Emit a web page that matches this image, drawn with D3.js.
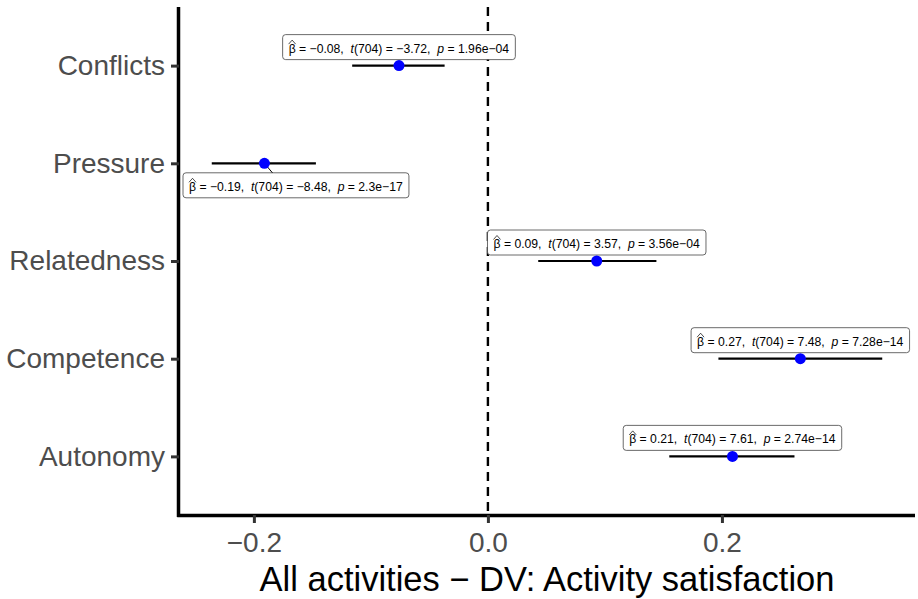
<!DOCTYPE html>
<html>
<head>
<meta charset="utf-8">
<script src="https://cdn.jsdelivr.net/npm/d3@7"></script>
<style>
  html, body { margin: 0; padding: 0; background: #fff; }
  svg { display: block; font-family: "Liberation Sans", Arial, Helvetica, sans-serif; }
  .lab text { white-space: pre; }
</style>
</head>
<body>
<svg id="chart" width="918" height="599"></svg>
<script>
// Données du graphique
const categories = ["Conflicts", "Pressure", "Relatedness", "Competence", "Autonomy"];
const estimates = [-0.076, -0.191, 0.093, 0.267, 0.209];
const ciLow = [-0.116, -0.236, 0.043, 0.197, 0.155];
const ciHigh = [-0.037, -0.147, 0.144, 0.337, 0.262];
const betaText = ["\u22120.08", "\u22120.19", "0.09", "0.27", "0.21"];
const tText = ["\u22123.72", "\u22128.48", "3.57", "7.48", "7.61"];
const pText = ["1.96e\u221204", "2.3e\u221217", "3.56e\u221204", "7.28e\u221214", "2.74e\u221214"];
const dfText = "704";
const xTicks = [-0.2, 0.0, 0.2];
const xTitle = "All activities \u2212 DV: Activity satisfaction";
// étiquette sous le point pour "Pressure" (comme ggrepel)
const labelBelow = [false, true, false, false, false];

const svg = d3.select("#chart");
const panel = { left: 179, right: 915, top: 7, bottom: 515 };

const x = d3.scaleLinear().domain([-0.264, 0.365]).range([panel.left, panel.right]);
const y = d3.scalePoint().domain(categories).range([panel.top, panel.bottom]).padding(0.6);

const fmt = v => v === 0 ? "0.0" : d3.format(".1f")(v).replace("-", "\u2212");

// Ligne verticale pointillée à 0
svg.append("line")
  .attr("x1", x(0)).attr("x2", x(0))
  .attr("y1", panel.top).attr("y2", panel.bottom)
  .attr("stroke", "#000").attr("stroke-width", 2.4)
  .attr("stroke-dasharray", "9,6");

// Axe X
const xAxis = svg.append("g")
  .attr("transform", `translate(0,${panel.bottom})`)
  .call(d3.axisBottom(x).tickValues(xTicks).tickFormat(fmt).tickSizeInner(8).tickSizeOuter(0).tickPadding(9));
xAxis.select(".domain").attr("stroke", "#000").attr("stroke-width", 3.5)
  .attr("d", `M${panel.left - 1.75},0.5H${panel.right}`);
xAxis.selectAll(".tick line").attr("stroke", "#333").attr("stroke-width", 3);
xAxis.selectAll(".tick text").attr("fill", "#4d4d4d").style("font-size", "28px")
  .style("font-family", "inherit");

// Axe Y
const yAxis = svg.append("g")
  .attr("transform", `translate(${panel.left},0)`)
  .call(d3.axisLeft(y).tickSizeInner(8).tickSizeOuter(0).tickPadding(6));
yAxis.select(".domain").attr("stroke", "#000").attr("stroke-width", 3.5)
  .attr("d", `M-0.5,${panel.top}V${panel.bottom + 2}`);
yAxis.selectAll(".tick line").attr("stroke", "#333").attr("stroke-width", 3);
yAxis.selectAll(".tick text").attr("fill", "#4d4d4d").style("font-size", "28px")
  .style("font-family", "inherit");

// Titre de l'axe X
svg.append("text")
  .attr("x", (panel.left + panel.right) / 2).attr("y", 591)
  .attr("text-anchor", "middle")
  .style("font-size", "34.5px").attr("fill", "#000")
  .text(xTitle);

// Intervalles de confiance
svg.append("g").selectAll("line")
  .data(categories)
  .join("line")
  .attr("x1", (d, i) => x(ciLow[i])).attr("x2", (d, i) => x(ciHigh[i]))
  .attr("y1", d => y(d)).attr("y2", d => y(d))
  .attr("stroke", "#000").attr("stroke-width", 2.2);

// Étiquettes
const labels = svg.append("g").attr("class", "lab");
categories.forEach((cat, i) => {
  const px = x(estimates[i]);
  const py = y(cat);
  const g = labels.append("g");
  const txt = g.append("text").style("font-size", "12.2px").attr("fill", "#000");
  txt.append("tspan").text("\u03b2");
  txt.append("tspan").text(` = ${betaText[i]},  `);
  txt.append("tspan").style("font-style", "italic").text("t");
  txt.append("tspan").text(`(${dfText}) = ${tText[i]},  `);
  txt.append("tspan").style("font-style", "italic").text("p");
  txt.append("tspan").text(` = ${pText[i]}`);

  const bb = txt.node().getBBox();
  const w = bb.width + 12, h = 25;
  let cx = px;
  cx = Math.max(panel.left + 4 + w / 2, Math.min(panel.right - 4 - w / 2, cx));
  const cy = labelBelow[i] ? py + 22 : py - 18.5;
  const bx = cx - w / 2, by = cy - h / 2;

  if (labelBelow[i]) {
    g.append("line")
      .attr("x1", px).attr("y1", py)
      .attr("x2", px + 8).attr("y2", by)
      .attr("stroke", "#000").attr("stroke-width", 1);
  }
  g.insert("rect", "text")
    .attr("x", bx).attr("y", by).attr("width", w).attr("height", h)
    .attr("rx", 3).attr("ry", 3)
    .attr("fill", "#fff").attr("stroke", "#444").attr("stroke-width", 0.8);
  txt.attr("x", bx + 6).attr("y", cy + 5.5);

  // Chapeau au-dessus du bêta
  const ext = txt.node().getExtentOfChar(0);
  const hy = ext.y - 0.5;
  g.append("path")
    .attr("d", `M${ext.x},${hy + 3}L${ext.x + ext.width / 2},${hy - 1}L${ext.x + ext.width},${hy + 3}`)
    .attr("fill", "none").attr("stroke", "#000").attr("stroke-width", 0.7);
});

// Points
svg.append("g").selectAll("circle")
  .data(categories)
  .join("circle")
  .attr("cx", (d, i) => x(estimates[i]))
  .attr("cy", d => y(d))
  .attr("r", 5.5)
  .attr("fill", "#0000ff");
</script>
</body>
</html>
